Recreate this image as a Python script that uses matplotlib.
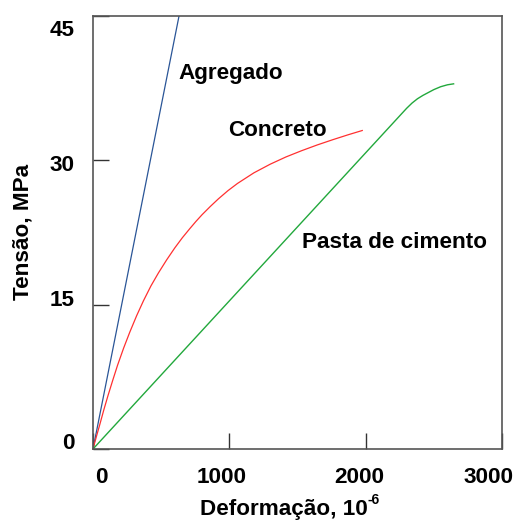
import matplotlib
matplotlib.use("Agg")
import matplotlib.pyplot as plt
from matplotlib.transforms import ScaledTranslation

plt.rcParams['font.family'] = ['Liberation Sans', 'DejaVu Sans']
plt.rcParams['font.weight'] = 'bold'

# strain (10^-6) and stress (MPa)
agregado_x = [0, 631]
agregado_y = [0, 45.0]

concreto_x = [0, 25, 50, 80, 110, 145, 180, 225, 270, 320, 370, 425, 480, 540, 600, 655,
              710, 755, 800, 860, 920, 990, 1060, 1180, 1300, 1415, 1530, 1645, 1760, 1870, 1975]
concreto_y = [0, 1.3, 2.55, 4.1, 5.55, 7.15, 8.7, 10.5, 12.15, 13.85, 15.4, 16.95, 18.3, 19.65,
              20.9, 21.95, 22.9, 23.65, 24.35, 25.2, 26.0, 26.85, 27.6, 28.7, 29.6, 30.35, 31.0,
              31.6, 32.15, 32.65, 33.1]

pasta_x = [0, 2300, 2340, 2380, 2420, 2460, 2500, 2550, 2600, 2645]
pasta_y = [0, 35.4, 35.95, 36.4, 36.75, 37.05, 37.35, 37.65, 37.85, 37.95]

x_ticks = [0, 1000, 2000, 3000]
y_ticks = [0, 15, 30, 45]

fs = 16.2
fig = plt.figure(figsize=(5.16, 5.21), dpi=100)
ax = fig.add_axes([93 / 516, 1 - 449 / 521, (502 - 93) / 516, (449 - 16) / 521])

ax.plot(agregado_x, agregado_y, color='#2a5597', lw=0.9)
ax.plot(concreto_x, concreto_y, color='#ff3030', lw=0.9)
ax.plot(pasta_x, pasta_y, color='#22a83c', lw=1.0)

ax.set_xlim(0, 3000)
ax.set_ylim(0, 45)
ax.set_xticks(x_ticks)
ax.set_yticks(y_ticks)
ax.tick_params(direction='in', length=11.5, width=1.0, color='#333333',
               labelsize=fs, pad=13)
for sp in ax.spines.values():
    sp.set_color('#555555')
    sp.set_linewidth(1.2)

# the tick labels in the original sit a little off their ticks
x_shift = [8, -8, -6, -13]
y_shift = [8, 6.5, -3, -11.5]
for lab, dx in zip(ax.get_xticklabels(), x_shift):
    lab.set_transform(lab.get_transform() + ScaledTranslation(dx / 100, 0, fig.dpi_scale_trans))
for lab, dy in zip(ax.get_yticklabels(), y_shift):
    lab.set_transform(lab.get_transform() + ScaledTranslation(0, dy / 100, fig.dpi_scale_trans))

ax.text(624, 39.0, 'Agregado', fontsize=fs, fontweight='bold', va='center')
ax.text(990, 33.1, 'Concreto', fontsize=fs, fontweight='bold', va='center')
ax.text(1533, 21.5, 'Pasta de cimento', fontsize=fs, fontweight='bold', va='center')

fig.text(200 / 516, 1 - 509 / 521, 'Deformação, 10', fontsize=fs,
         fontweight='bold', ha='left', va='center')
fig.text(367 / 516, 1 - 500 / 521, '-6', fontsize=10, fontweight='bold',
         ha='left', va='center')
fig.text(23 / 516, 1 - 232 / 521, 'Tensão, MPa', fontsize=fs, fontweight='bold',
         rotation=90, ha='center', va='center')

fig.savefig('out.png', dpi=100)
